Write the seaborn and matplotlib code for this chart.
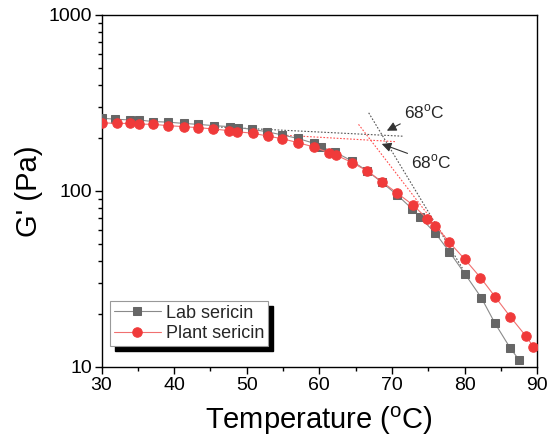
import matplotlib
matplotlib.use("Agg")
import matplotlib.pyplot as plt
import numpy as np
import pandas as pd
import seaborn as sns
from matplotlib.patches import Rectangle
from matplotlib.ticker import FixedLocator, FuncFormatter, LogLocator, NullFormatter

# temperature (C) and storage modulus G' (Pa)
lab_temp = [30, 31.8, 33.9, 35.1, 37.1, 39.2, 41.3, 43.3, 45.5, 47.7, 48.8, 50.7, 52.8,
            54.9, 57.0, 59.2, 60.2, 62.2, 64.5, 66.6, 68.6, 70.7, 72.8, 73.8, 76.0,
            77.9, 80.1, 82.3, 84.2, 86.3, 87.5]
lab_g = [259, 256, 253, 253, 248, 246, 242, 239, 235, 232, 229, 224, 217, 208, 199,
         187, 178, 166, 148, 130, 112, 95, 79, 71.4, 57.5, 45.2, 33.6, 24.8, 17.7, 12.8, 11.0]

plant_temp = [30, 32.1, 33.9, 35.1, 37.1, 39.2, 41.3, 43.3, 45.4, 47.6, 48.6, 50.8, 52.9,
              54.9, 57.1, 59.2, 61.3, 62.3, 64.5, 66.6, 68.6, 70.7, 72.9, 74.9, 76.0,
              77.9, 80.0, 82.2, 84.2, 86.3, 88.5, 89.5]
plant_g = [244, 242, 242, 240, 239, 235, 232, 229, 225, 220, 217, 213, 205, 198, 188,
           178, 165, 160, 145, 130, 113, 97.4, 83.2, 69.3, 63.5, 51.1, 41.1, 32.2, 25.1,
           19.3, 14.9, 13.0]

# dotted tangent lines (onset construction)
lab_flat_temp = [46.0, 71.6]
lab_flat_g = [231, 204.6]
lab_steep_temp = [66.8, 79.7]
lab_steep_g = [278, 36.4]
plant_flat_temp = [54.6, 70.5]
plant_flat_g = [208, 190.6]
plant_steep_temp = [65.4, 78.0]
plant_steep_g = [239, 50.4]

onset_label = "68$^\\mathrm{o}$C"

sns.set_theme(style="ticks")
plt.rcParams["font.family"] = ["Liberation Sans", "DejaVu Sans"]
plt.rcParams["mathtext.fontset"] = "custom"
plt.rcParams["mathtext.rm"] = "Liberation Sans"

fig = plt.figure(figsize=(5.52, 4.4), dpi=100)
ax = fig.add_axes([0.184, 0.166, 0.789, 0.800])

lab_df = pd.DataFrame({"temp": lab_temp, "g": lab_g})
plant_df = pd.DataFrame({"temp": plant_temp, "g": plant_g})

gray = "#666666"
red = "#f03a3a"

sns.lineplot(data=lab_df, x="temp", y="g", ax=ax, estimator=None, color="#8a8a8a",
             linewidth=0.8, marker="s", markersize=5.5, markerfacecolor=gray,
             markeredgecolor=gray, label="Lab sericin", zorder=3)
sns.lineplot(data=plant_df, x="temp", y="g", ax=ax, estimator=None, color="#f07070",
             linewidth=0.8, marker="o", markersize=6.8, markerfacecolor=red,
             markeredgecolor=red, label="Plant sericin", zorder=4)

for tx, ty, c in [(lab_flat_temp, lab_flat_g, "#555555"),
                  (lab_steep_temp, lab_steep_g, "#555555"),
                  (plant_flat_temp, plant_flat_g, "#ff5050"),
                  (plant_steep_temp, plant_steep_g, "#ff5050")]:
    ax.plot(tx, ty, linestyle=(0, (1.5, 1.5)), color=c, linewidth=0.8, zorder=2)

arrow = dict(arrowstyle="-|>", color="#333333", lw=0.8, mutation_scale=14,
             shrinkA=0, shrinkB=0)
ax.annotate(onset_label, xy=(69.3, 220), xytext=(71.6, 281), fontsize=12.5,
            va="center", ha="left", arrowprops=arrow)
ax.annotate(onset_label, xy=(68.6, 185), xytext=(72.6, 146), fontsize=12.5,
            va="center", ha="left", arrowprops=arrow)

ax.set_yscale("log")
ax.set_xlim(30, 90)
ax.set_ylim(10, 1000)
ax.xaxis.set_major_locator(FixedLocator([30, 40, 50, 60, 70, 80, 90]))
ax.xaxis.set_minor_locator(FixedLocator([35, 45, 55, 65, 75, 85]))
ax.yaxis.set_major_locator(FixedLocator([10, 100, 1000]))
ax.yaxis.set_major_formatter(FuncFormatter(lambda v, p: f"{v:.0f}"))
ax.yaxis.set_minor_locator(LogLocator(base=10, subs=np.arange(2, 10)))
ax.yaxis.set_minor_formatter(NullFormatter())

ax.tick_params(axis="both", which="major", direction="out", length=5, width=1,
               labelsize=14, color="black", labelcolor="black", pad=2)
ax.tick_params(axis="both", which="minor", direction="out", length=3, width=1,
               color="black")
ax.tick_params(top=False, right=False, which="both")
for s in ax.spines.values():
    s.set_visible(True)
    s.set_color("black")
    s.set_linewidth(1)

ax.set_xlabel("Temperature ($^\\mathrm{o}$C)", fontsize=21, labelpad=8, color="black")
ax.set_ylabel("G' (Pa)", fontsize=21, labelpad=4, color="black")

leg = ax.legend(loc="lower left", bbox_to_anchor=(0.02, 0.06), fontsize=13,
                frameon=True, fancybox=False, framealpha=1, edgecolor="#999999",
                handlelength=2.6, borderpad=0.2, labelspacing=0.2,
                handletextpad=0.3, borderaxespad=0)
leg.get_frame().set_linewidth(0.8)
leg.set_zorder(6)

fig.canvas.draw()
bb = leg.get_window_extent()
shadow = Rectangle((bb.x0 + 5, bb.y0 - 5), bb.width, bb.height, transform=None,
                   facecolor="black", edgecolor="black", zorder=5.5)
ax.add_patch(shadow)

fig.savefig("out.png", dpi=100)
